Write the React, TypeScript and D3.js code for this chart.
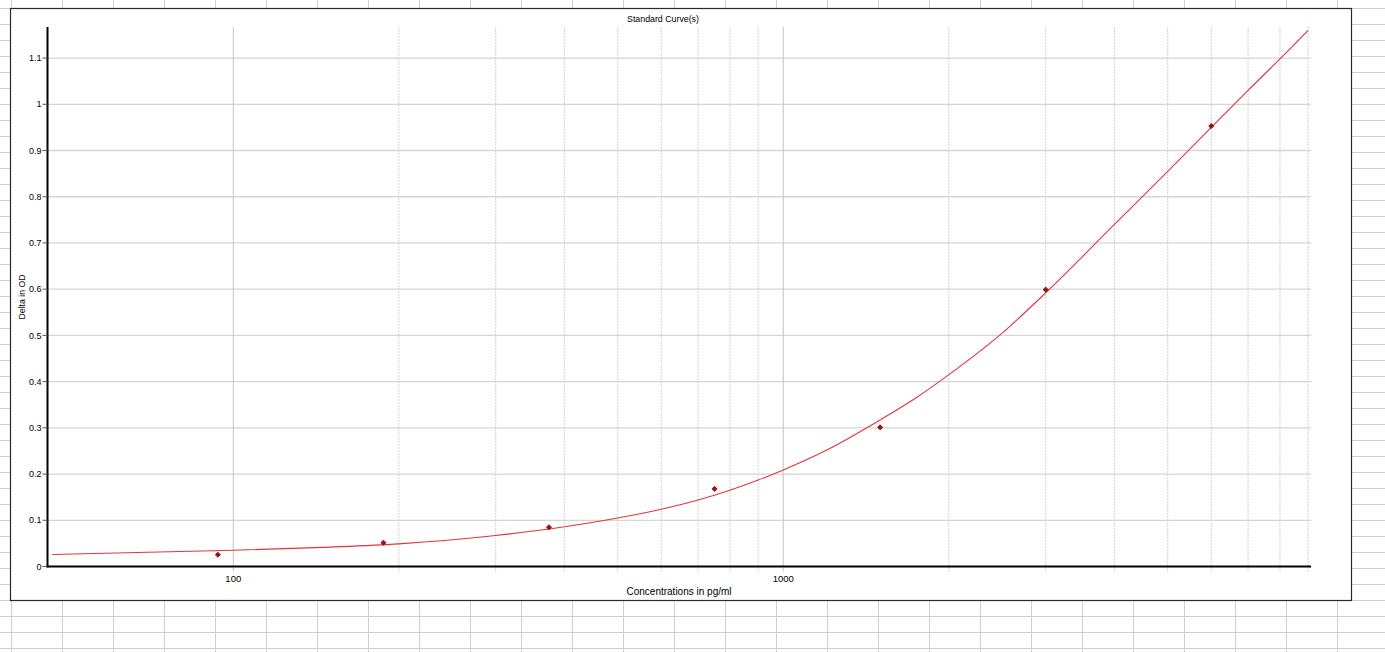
import React, { useEffect, useRef } from 'react';
import * as d3 from 'd3';

// standards (pg/ml) and measured delta OD
const standardConc = [93.75, 187.5, 375, 750, 1500, 3000, 6000];
const standardOD = [0.0255, 0.0515, 0.085, 0.168, 0.301, 0.599, 0.953];

// fitted curve
const fitConc = [46.875, 100, 150, 200, 300, 400, 500, 600, 700, 800, 900, 1000, 1200, 1500, 1750, 2000, 2500, 3000, 4000, 5000, 6000, 7000, 8000, 9000];
const fitOD = [0.026, 0.035, 0.042, 0.049, 0.067, 0.086, 0.105, 0.124, 0.144, 0.165, 0.187, 0.209, 0.252, 0.317, 0.366, 0.415, 0.505, 0.592, 0.74, 0.855, 0.95, 1.03, 1.098, 1.16];

const yTicks = [0, 0.1, 0.2, 0.3, 0.4, 0.5, 0.6, 0.7, 0.8, 0.9, 1, 1.1];
const xMajorTicks = [100, 1000];
const xMinorTicks = [200, 300, 400, 500, 600, 700, 800, 900, 2000, 3000, 4000, 5000, 6000, 7000, 8000, 9000];

const title = 'Standard Curve(s)';
const xTitle = 'Concentrations in pg/ml';
const yTitle = 'Delta in OD';

const W = 1385;
const H = 652;

const App: React.FC = () => {
  const ref = useRef<SVGSVGElement | null>(null);

  useEffect(() => {
    document.body.style.margin = '0';
    document.body.style.overflow = 'hidden';

    const svg = d3.select(ref.current);
    svg.selectAll('*').remove();
    const font = '"Liberation Sans", Arial, sans-serif';

    svg.append('rect').attr('width', W).attr('height', H).attr('fill', '#fff');

    // spreadsheet cells behind the chart
    const sheet = svg.append('g').attr('stroke', '#d0d0d0').attr('stroke-width', 1);
    for (let cx = 10.5; cx < W; cx += 51) {
      sheet.append('line').attr('x1', Math.round(cx) + 0.5).attr('x2', Math.round(cx) + 0.5).attr('y1', 0).attr('y2', H);
    }
    for (let cy = 8.5; cy < H; cy += 16) {
      sheet.append('line').attr('x1', 0).attr('x2', W).attr('y1', cy).attr('y2', cy);
    }

    // chart frame
    svg.append('rect')
      .attr('x', 10.5).attr('y', 8.5)
      .attr('width', 1341).attr('height', 592)
      .attr('fill', '#fff')
      .attr('stroke', '#2a2a2a')
      .attr('stroke-width', 1.2);

    const x = d3.scaleLog().domain([45.94, 9110]).range([47.5, 1311]);
    const y = d3.scaleLinear().domain([0, 1.1672]).range([566.5, 27]);
    const [x0, x1] = x.range();
    const [yb, yt] = y.range();

    // horizontal grid
    svg.append('g')
      .selectAll('line')
      .data(yTicks.filter(d => d > 0))
      .enter().append('line')
      .attr('x1', x0).attr('x2', x1)
      .attr('y1', d => y(d)).attr('y2', d => y(d))
      .attr('stroke', '#d6d6d6')
      .attr('stroke-width', 1.3);

    // vertical grid
    svg.append('g')
      .selectAll('line')
      .data(xMinorTicks)
      .enter().append('line')
      .attr('x1', d => x(d)).attr('x2', d => x(d))
      .attr('y1', yt).attr('y2', yb + 6)
      .attr('stroke', '#d2d2d2')
      .attr('stroke-dasharray', '2,1');

    svg.append('g')
      .selectAll('line')
      .data(xMajorTicks)
      .enter().append('line')
      .attr('x1', d => x(d)).attr('x2', d => x(d))
      .attr('y1', yt).attr('y2', yb + 5)
      .attr('stroke', '#c4c4c4');

    // axes
    svg.append('line')
      .attr('x1', x0).attr('x2', x0)
      .attr('y1', yt).attr('y2', yb + 1)
      .attr('stroke', '#000').attr('stroke-width', 2);
    svg.append('line')
      .attr('x1', x0 - 1).attr('x2', x1)
      .attr('y1', yb).attr('y2', yb)
      .attr('stroke', '#000').attr('stroke-width', 2);

    const yAxis = svg.append('g');
    yTicks.forEach(t => {
      yAxis.append('line')
        .attr('x1', x0 - 5).attr('x2', x0)
        .attr('y1', y(t)).attr('y2', y(t))
        .attr('stroke', '#555');
      yAxis.append('text')
        .attr('x', x0 - 6)
        .attr('y', y(t))
        .attr('dy', '0.35em')
        .attr('text-anchor', 'end')
        .style('font-family', font)
        .style('font-size', '9px')
        .attr('fill', '#000')
        .text(String(t));
    });

    xMajorTicks.forEach(t => {
      svg.append('text')
        .attr('x', x(t))
        .attr('y', yb + 15)
        .attr('text-anchor', 'middle')
        .style('font-family', font)
        .style('font-size', '9.5px')
        .attr('fill', '#000')
        .text(String(t));
    });

    // titles
    svg.append('text')
      .attr('x', 663).attr('y', 22)
      .attr('text-anchor', 'middle')
      .style('font-family', font)
      .style('font-size', '8.8px')
      .attr('fill', '#000')
      .text(title);

    svg.append('text')
      .attr('x', 679).attr('y', 595)
      .attr('text-anchor', 'middle')
      .style('font-family', font)
      .style('font-size', '10px')
      .attr('fill', '#000')
      .text(xTitle);

    svg.append('text')
      .attr('transform', 'translate(25,297) rotate(-90)')
      .attr('text-anchor', 'middle')
      .style('font-family', font)
      .style('font-size', '8.7px')
      .attr('fill', '#000')
      .text(yTitle);

    // fitted curve
    const line = d3.line<number>()
      .x((_, i) => x(fitConc[i]))
      .y(d => y(d))
      .curve(d3.curveMonotoneX);

    svg.append('path')
      .datum(fitOD)
      .attr('d', line)
      .attr('fill', 'none')
      .attr('stroke', '#e3343a')
      .attr('stroke-width', 1.1);

    // standards, small square turned into a diamond
    const marker = d3.symbol().type(d3.symbolSquare).size(13);
    svg.append('g')
      .selectAll('path')
      .data(standardOD)
      .enter().append('path')
      .attr('d', marker)
      .attr('transform', (d, i) => `translate(${x(standardConc[i])},${y(d)}) rotate(45)`)
      .attr('fill', '#b40a0a')
      .attr('stroke', '#5a0000')
      .attr('stroke-width', 0.7);
  }, []);

  return (
    <div style={{ position: 'absolute', left: 0, top: 0 }}>
      <svg ref={ref} width={W} height={H} style={{ display: 'block' }}></svg>
    </div>
  );
};

export default App;
